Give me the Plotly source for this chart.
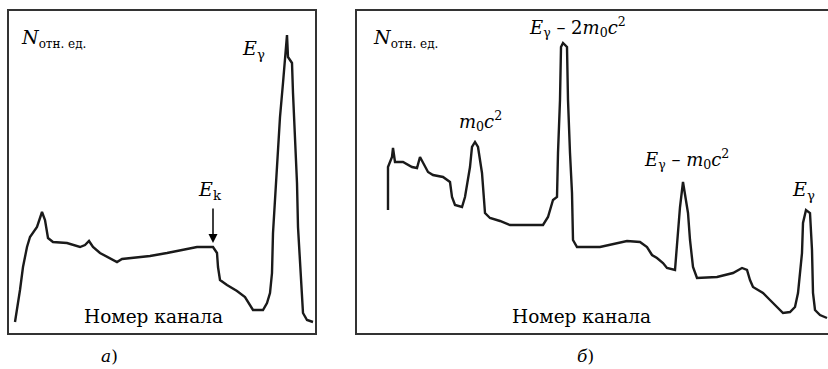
import plotly.graph_objects as go

# Panel a: channel number vs relative counts
chan_a = [6, 8, 11, 14, 18, 21, 24, 28, 31, 33, 36, 39, 44, 58, 71, 76, 80, 84, 91, 101, 108, 113,
          124, 141, 158, 174, 188, 204, 208, 209, 211, 218, 228, 236, 241, 244, 254, 258, 261, 263,
          264, 266, 268, 271, 274, 276, 278, 279, 283, 284, 286, 288, 289, 291, 293, 294, 298, 304]
cnt_a = [11, 23, 43, 66, 86, 96, 100, 106, 115, 121, 113, 95, 91, 90, 86, 88, 92, 86, 80, 75, 71, 74,
         75, 77, 80, 83, 86, 86, 80, 66, 53, 48, 42, 36, 28, 23, 23, 30, 40, 60,
         100, 133, 166, 216, 250, 276, 298, 276, 270, 240, 200, 150, 106, 66, 33, 20, 13, 11]

# Panel b
chan_b = [31, 31, 35, 36, 38, 46, 55, 60, 63, 66, 71, 76, 86, 93, 95, 98, 105, 108, 110, 113, 115,
          118, 121, 125, 128, 133, 143, 153, 186, 191, 196, 200, 201, 203, 204, 206, 210, 211, 213,
          215, 216, 220, 243, 260, 270, 283, 290, 295, 300, 306, 310, 318, 321, 323, 326, 329, 331,
          333, 336, 340, 360, 376, 385, 390, 393, 396, 406, 413, 420, 426, 433, 438, 441, 445, 446,
          449, 453, 455, 456, 458, 463, 470]
cnt_b = [123, 166, 176, 185, 171, 171, 166, 165, 176, 170, 161, 158, 156, 151, 136, 128, 126, 136, 150,
         166, 186, 191, 186, 160, 120, 115, 112, 108, 108, 116, 133, 136, 180, 233, 286, 290, 286, 233,
         180, 140, 93, 86, 86, 90, 92, 91, 86, 78, 75, 70, 65, 63, 103, 126, 151, 133, 120,
         93, 66, 55, 56, 60, 65, 63, 53, 46, 40, 33, 26, 20, 21, 26, 40, 80, 110,
         123, 120, 83, 40, 23, 18, 15]

W, H = 828, 369
LINE = "#1a1a1a"
FONT = "DejaVu Serif"

fig = go.Figure()
fig.add_trace(go.Scatter(x=chan_a, y=cnt_a, mode="lines", line=dict(color=LINE, width=2.4),
                         xaxis="x", yaxis="y", showlegend=False, hoverinfo="skip"))
fig.add_trace(go.Scatter(x=chan_b, y=cnt_b, mode="lines", line=dict(color=LINE, width=2.4),
                         xaxis="x2", yaxis="y2", showlegend=False, hoverinfo="skip"))

ydom = [36 / H, 358 / H]
ax_common = dict(showgrid=False, zeroline=False, showticklabels=False, ticks="",
                 showline=True, linecolor="#333", linewidth=1.5, fixedrange=True)
fig.update_layout(
    width=W, height=H, margin=dict(l=0, r=0, t=0, b=0),
    paper_bgcolor="white", plot_bgcolor="white",
    xaxis=dict(domain=[9 / W, 315 / W], range=[0, 306], mirror=True, **ax_common),
    yaxis=dict(domain=ydom, range=[0, 322], mirror=True, **ax_common),
    xaxis2=dict(domain=[357 / W, 1.0], range=[0, 471], mirror=True, anchor="y2", **ax_common),
    yaxis2=dict(domain=ydom, range=[0, 322], mirror=False, anchor="x2", **ax_common),
    font=dict(family=FONT, color="black"),
)

def ann(text, px, py, size=19, xanchor="center"):
    fig.add_annotation(text=text, x=px / W, y=1 - py / H, xref="paper", yref="paper",
                       showarrow=False, xanchor=xanchor, yanchor="middle",
                       font=dict(family=FONT, size=size, color="black"))

sub_small = '<sub><span style="font-size:12px">отн. ед.</span></sub>'
ann("<i>N</i>" + sub_small, 19, 38, size=19, xanchor="left")
ann("<i>N</i>" + sub_small, 371, 38, size=19, xanchor="left")
ann("<i>E</i><sub>γ</sub>", 254, 50)
ann("<i>E</i><sub>k</sub>", 210, 190)
ann("Номер канала", 153, 316, size=18.5)
ann("<i>а</i>)", 109, 356, size=17)

ann("<i>E</i><sub>γ</sub> – 2<i>m</i><sub>0</sub><i>c</i><sup>2</sup>", 577, 27, size=18)
ann("<i>m</i><sub>0</sub><i>c</i><sup>2</sup>", 480, 121, size=18)
ann("<i>E</i><sub>γ</sub> – <i>m</i><sub>0</sub><i>c</i><sup>2</sup>", 686, 159, size=18)
ann("<i>E</i><sub>γ</sub>", 803, 190)
ann("Номер канала", 581, 316, size=18.5)
ann("<i>б</i>)", 585, 356, size=17)

# arrow pointing to Compton edge
fig.add_annotation(x=204, y=90, xref="x", yref="y", ax=0, ay=-36, axref="pixel", ayref="pixel",
                   showarrow=True, arrowhead=2, arrowsize=1.2, arrowwidth=1.5, arrowcolor="black",
                   text="")

fig.write_html("out.html")
